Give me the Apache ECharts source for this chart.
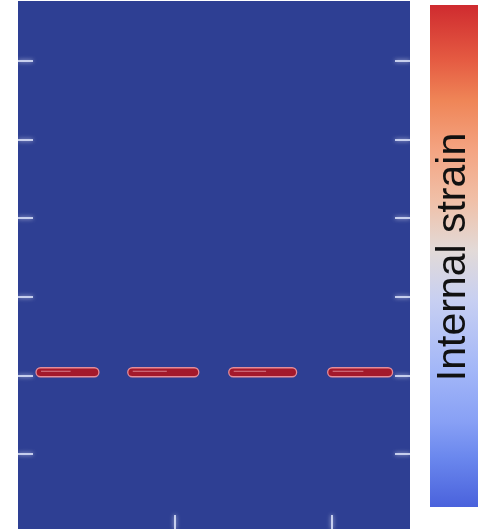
<!DOCTYPE html>
<html>
<head>
<meta charset="utf-8">
<script src="https://cdn.jsdelivr.net/npm/echarts@6/dist/echarts.min.js"></script>
<style>
  html, body { margin: 0; padding: 0; background: #fff; }
  #myChart { width: 485px; height: 529px; }
</style>
</head>
<body>
<div id="myChart"></div>
<script>
// tick positions (axis units)
var xTicks = [1, 2];
var yTicks = [1, 2, 3, 4, 5, 6];
// red dash segments: [xStart, xEnd, y]
var dashStart = [0.115, 0.70, 1.344, 1.975];
var dashEnd = [0.516, 1.153, 1.777, 2.389];
var dashY = [2.04, 2.04, 2.04, 2.04];
var barTitle = "Internal strain";

var dashData = dashStart.map(function (s, i) {
  return [s, dashEnd[i], dashY[i]];
});

var myChart = echarts.init(document.getElementById("myChart"));

var tickStyle = {
  color: "#e4eaff",
  width: 1.6,
  shadowBlur: 4,
  shadowColor: "rgba(255,255,255,0.8)"
};

function yAxisOf(pos) {
  return {
    type: "value",
    position: pos,
    min: 0.046,
    max: 6.763,
    axisLine: { show: false },
    axisLabel: { show: false },
    splitLine: { show: false },
    axisTick: {
      show: true,
      inside: true,
      length: 15,
      customValues: yTicks,
      lineStyle: tickStyle
    }
  };
}

myChart.setOption({
  animation: false,
  grid: {
    left: 18,
    right: 75,
    top: 1,
    bottom: 0,
    show: true,
    backgroundColor: "#2e3f93",
    borderWidth: 0
  },
  xAxis: {
    type: "value",
    min: 0,
    max: 2.5,
    axisLine: { show: false },
    axisLabel: { show: false },
    splitLine: { show: false },
    axisTick: {
      show: true,
      inside: true,
      length: 14,
      customValues: xTicks,
      lineStyle: tickStyle
    }
  },
  yAxis: [yAxisOf("left"), yAxisOf("right")],
  series: [
    {
      type: "custom",
      data: dashData,
      encode: { x: [0, 1], y: 2 },
      renderItem: function (params, api) {
        var a = api.coord([api.value(0), api.value(2)]);
        var b = api.coord([api.value(1), api.value(2)]);
        var h = 9;
        return {
          type: "group",
          children: [
            {
              type: "rect",
              shape: { x: a[0], y: a[1] - h / 2, width: b[0] - a[0], height: h, r: h / 2 },
              style: { fill: "#a3192b", stroke: "#e58c98", lineWidth: 1.3 }
            },
            {
              type: "line",
              shape: { x1: a[0] + 5, y1: a[1] - 1, x2: a[0] + (b[0] - a[0]) * 0.55, y2: a[1] - 1 },
              style: { stroke: "rgba(240,170,180,0.7)", lineWidth: 1 }
            }
          ]
        };
      }
    }
  ],
  graphic: [
    {
      type: "rect",
      shape: { x: 430, y: 5, width: 48, height: 502 },
      style: {
        fill: new echarts.graphic.LinearGradient(0, 0, 0, 1, [
          { offset: 0, color: "#cf2b2f" },
          { offset: 0.11, color: "#e55b42" },
          { offset: 0.19, color: "#ef8557" },
          { offset: 0.29, color: "#f4a482" },
          { offset: 0.39, color: "#f0c0a8" },
          { offset: 0.49, color: "#e2dad8" },
          { offset: 0.59, color: "#c7cff2" },
          { offset: 0.73, color: "#a2b6f8" },
          { offset: 0.83, color: "#88a0f5" },
          { offset: 0.9, color: "#6b88ee" },
          { offset: 1, color: "#4a62dc" }
        ])
      }
    },
    {
      type: "text",
      x: 454,
      y: 257,
      rotation: Math.PI / 2,
      style: {
        text: barTitle,
        fill: "#111",
        font: '41px "Liberation Sans", Arial, sans-serif',
        align: "center",
        verticalAlign: "middle"
      }
    }
  ]
});
</script>
</body>
</html>
